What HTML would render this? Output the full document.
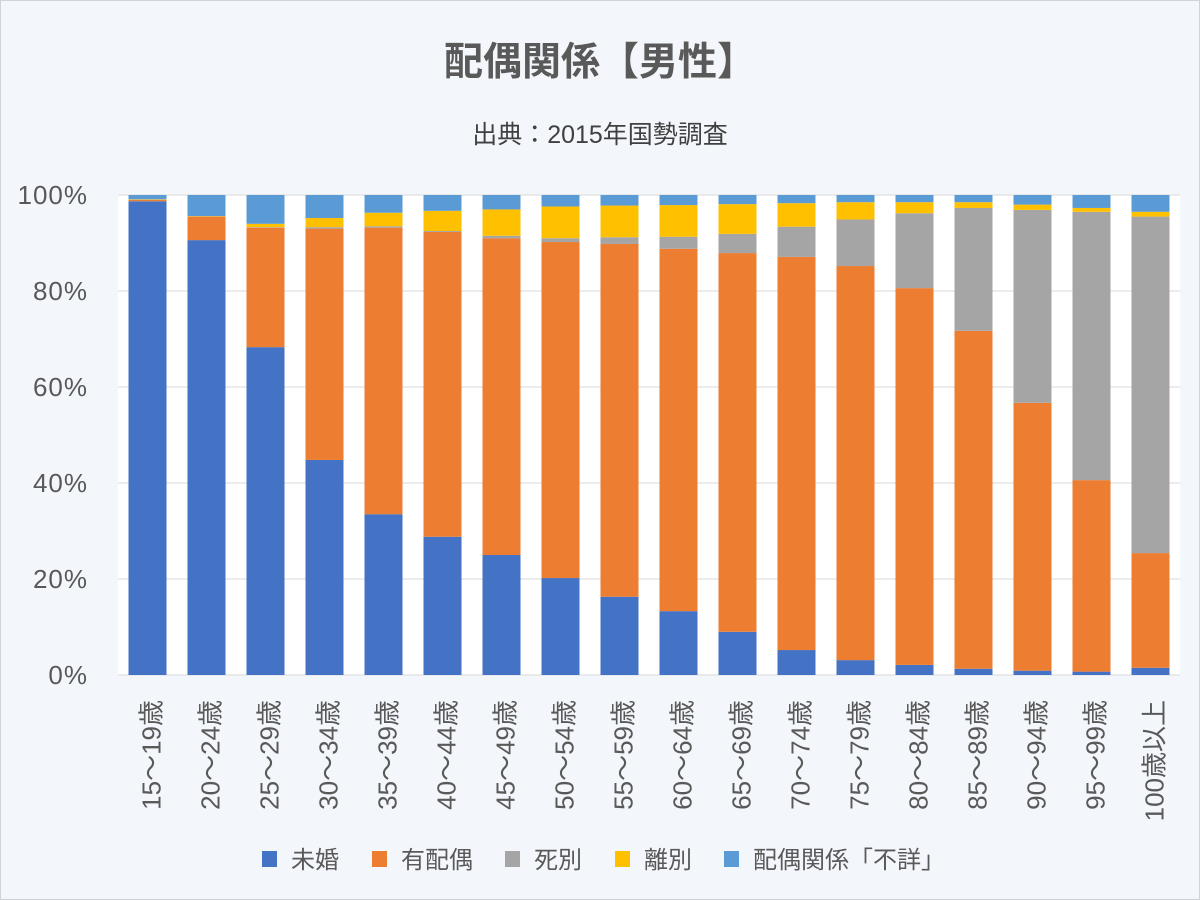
<!DOCTYPE html>
<html><head><meta charset="utf-8">
<style>
html,body{margin:0;padding:0;background:#f3f6fb;}
svg{display:block;font-family:"Liberation Sans","Noto Sans CJK JP",sans-serif;}
</style></head>
<body>
<svg id="chart" width="1200" height="900" viewBox="0 0 1200 900">
<rect x="0.5" y="0.5" width="1199" height="899" fill="#f3f6fb" stroke="#d0d4da"/>
<text x="600" y="75" text-anchor="middle" font-size="39" font-weight="bold" fill="#595959">配偶関係【男性】</text>
<text x="600" y="143" text-anchor="middle" font-size="25" fill="#404040">出典：2015年国勢調査</text>
<rect x="118" y="195" width="1062" height="480" fill="#ffffff"/>
<g id="grid"></g>
<g id="bars"></g>
<g id="yticks"></g>
<g id="xticks"></g>
<g id="legend"></g>
</svg>
<script>
const categories=["15～19歳","20～24歳","25～29歳","30～34歳","35～39歳","40～44歳","45～49歳","50～54歳","55～59歳","60～64歳","65～69歳","70～74歳","75～79歳","80～84歳","85～89歳","90～94歳","95～99歳","100歳以上"];
const seriesNames=["未婚","有配偶","死別","離別","配偶関係「不詳」"];
const mikon=[98.7,90.6,68.3,44.8,33.5,28.8,25.0,20.2,16.3,13.3,9.0,5.2,3.1,2.1,1.3,0.9,0.7,1.5];
const haiguu=[0.3,4.9,24.9,48.2,59.7,63.5,66.0,70.0,73.5,75.5,78.9,81.9,82.1,78.5,70.4,55.8,39.9,23.9];
const shibetsu=[0.0,0.0,0.1,0.3,0.3,0.2,0.5,0.8,1.4,2.5,4.0,6.3,9.7,15.6,25.6,40.2,55.9,70.1];
const ribetsu=[0.1,0.1,0.7,1.9,2.8,4.2,5.5,6.6,6.6,6.6,6.2,4.9,3.6,2.3,1.2,1.1,0.8,1.0];
const fushou=[0.9,4.4,6.0,4.8,3.7,3.3,3.0,2.4,2.2,2.1,1.9,1.7,1.5,1.5,1.5,2.0,2.7,3.5];
const yTicks=[0,20,40,60,80,100];
const colors=["#4472c4","#ed7d31","#a5a5a5","#ffc000","#5b9bd5"];
const NS="http://www.w3.org/2000/svg";
const X0=118,X1=1180,Y0=675,Y1=195;
function yScale(v){return Y0-(v/100)*(Y0-Y1);}
const step=(X1-X0)/categories.length;
function xCenter(i){return X0+step*(i+0.5);}
const barW=38;
function mk(tag,attrs,parent){const e=document.createElementNS(NS,tag);for(const k in attrs)e.setAttribute(k,attrs[k]);parent.appendChild(e);return e;}
const grid=document.getElementById('grid'),yt=document.getElementById('yticks');
yTicks.forEach(t=>{
 const l=mk('line',{x1:X0,x2:X1,y1:yScale(t),y2:yScale(t),stroke:'#d9d9d9','stroke-width':1},grid);
 
 
 const tx=mk('text',{x:88,y:yScale(t)+9,'text-anchor':'end','font-size':26,'letter-spacing':1,fill:'#595959'},yt);
 tx.textContent=t+'%';
 
 
});
const data=[mikon,haiguu,shibetsu,ribetsu,fushou];
const bars=document.getElementById('bars'),xt=document.getElementById('xticks');
categories.forEach((c,i)=>{
 let cum=0;
 data.forEach((s,k)=>{
  const v=s[i];
  const yTop=yScale(cum+v),yBot=yScale(cum);
  const r=mk('rect',{x:xCenter(i)-barW/2,y:yTop,width:barW,height:Math.max(0,yBot-yTop),fill:colors[k]},bars);
  
  
  cum+=v;
 });
 const tx=mk('text',{x:0,y:0,'text-anchor':'end','font-size':26,fill:'#595959',transform:`translate(${xCenter(i)+13},700) rotate(-90)`},xt);
 tx.textContent=c;
 
 
});
const lg=document.getElementById('legend');
const lx=[262,372,505,615,724];
seriesNames.forEach((n,k)=>{
 const g=mk('g',{},lg);
 
 
 mk('rect',{x:lx[k],y:851,width:15,height:16,fill:colors[k]},g);
 const t=mk('text',{x:lx[k]+29,y:868,'font-size':24,fill:'#595959'},g);
 t.textContent=n;
});
</script>
</body></html>
